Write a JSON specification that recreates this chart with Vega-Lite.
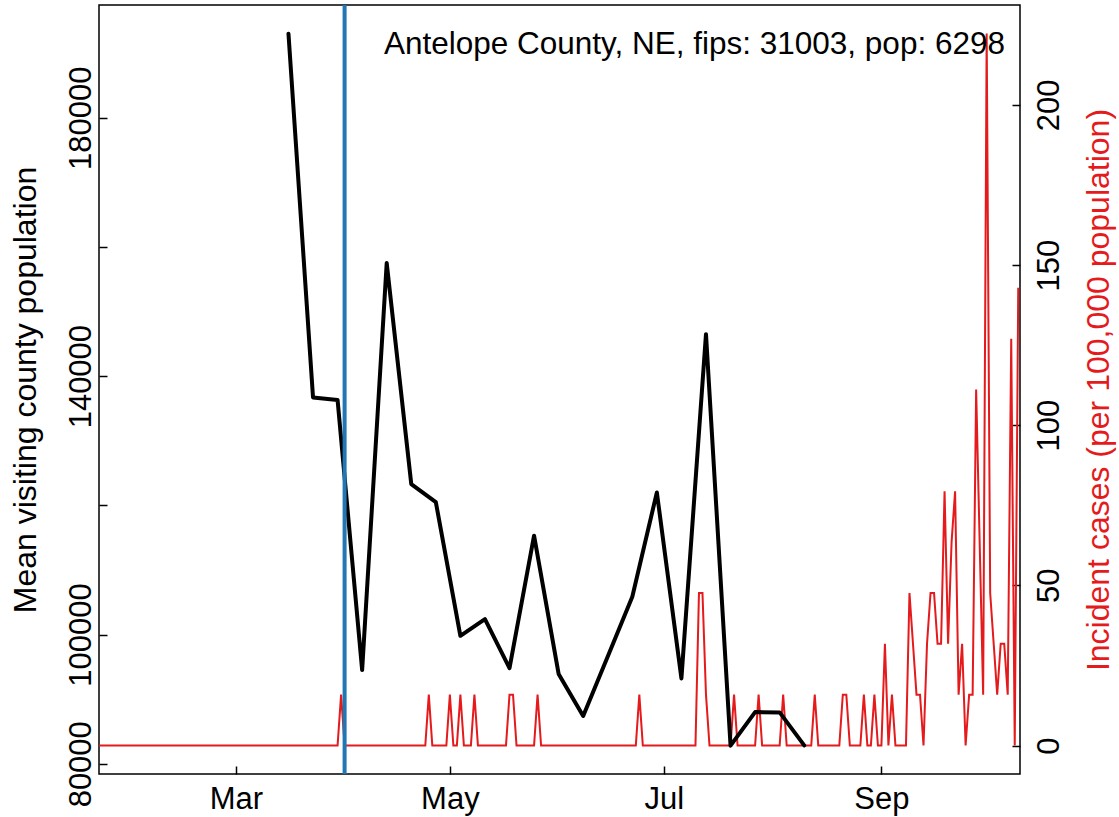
{
  "$schema": "https://vega.github.io/schema/vega-lite/v6.json",
  "width": 921,
  "height": 769,
  "autosize": {"type": "none"},
  "padding": {"left": 99, "top": 5, "right": 99, "bottom": 43},
  "background": "white",
  "config": {
    "view": {"stroke": "#000000", "strokeWidth": 1.5},
    "font": "Liberation Sans",
    "axis": {
      "grid": false,
      "domain": false,
      "tickColor": "#000000",
      "tickWidth": 1.5,
      "tickSize": -8,
      "labelFont": "Liberation Sans",
      "labelFontSize": 31,
      "labelColor": "#000000",
      "titleFont": "Liberation Sans",
      "titleFontSize": 32,
      "titleFontWeight": "normal",
      "titleColor": "#000000",
      "labelFlush": false,
      "labelOverlap": false
    }
  },
  "title": {
    "text": "Antelope County, NE, fips: 31003, pop: 6298",
    "anchor": "end",
    "frame": "group",
    "offset": -51,
    "baseline": "alphabetic",
    "dx": -15,
    "dy": 31,
    "fontSize": 31.5,
    "fontWeight": "normal",
    "font": "Liberation Sans",
    "color": "#000000"
  },
  "datasets": {
    "cases": [
      {"date":"2020-01-22","incidence":0},{"date":"2020-01-23","incidence":0},{"date":"2020-01-24","incidence":0},{"date":"2020-01-25","incidence":0},{"date":"2020-01-26","incidence":0},{"date":"2020-01-27","incidence":0},{"date":"2020-01-28","incidence":0},{"date":"2020-01-29","incidence":0},{"date":"2020-01-30","incidence":0},{"date":"2020-01-31","incidence":0},
      {"date":"2020-02-01","incidence":0},{"date":"2020-02-02","incidence":0},{"date":"2020-02-03","incidence":0},{"date":"2020-02-04","incidence":0},{"date":"2020-02-05","incidence":0},{"date":"2020-02-06","incidence":0},{"date":"2020-02-07","incidence":0},{"date":"2020-02-08","incidence":0},{"date":"2020-02-09","incidence":0},{"date":"2020-02-10","incidence":0},{"date":"2020-02-11","incidence":0},{"date":"2020-02-12","incidence":0},{"date":"2020-02-13","incidence":0},{"date":"2020-02-14","incidence":0},{"date":"2020-02-15","incidence":0},{"date":"2020-02-16","incidence":0},{"date":"2020-02-17","incidence":0},{"date":"2020-02-18","incidence":0},{"date":"2020-02-19","incidence":0},{"date":"2020-02-20","incidence":0},{"date":"2020-02-21","incidence":0},{"date":"2020-02-22","incidence":0},{"date":"2020-02-23","incidence":0},{"date":"2020-02-24","incidence":0},{"date":"2020-02-25","incidence":0},{"date":"2020-02-26","incidence":0},{"date":"2020-02-27","incidence":0},{"date":"2020-02-28","incidence":0},{"date":"2020-02-29","incidence":0},
      {"date":"2020-03-01","incidence":0},{"date":"2020-03-02","incidence":0},{"date":"2020-03-03","incidence":0},{"date":"2020-03-04","incidence":0},{"date":"2020-03-05","incidence":0},{"date":"2020-03-06","incidence":0},{"date":"2020-03-07","incidence":0},{"date":"2020-03-08","incidence":0},{"date":"2020-03-09","incidence":0},{"date":"2020-03-10","incidence":0},{"date":"2020-03-11","incidence":0},{"date":"2020-03-12","incidence":0},{"date":"2020-03-13","incidence":0},{"date":"2020-03-14","incidence":0},{"date":"2020-03-15","incidence":0},{"date":"2020-03-16","incidence":0},{"date":"2020-03-17","incidence":0},{"date":"2020-03-18","incidence":0},{"date":"2020-03-19","incidence":0},{"date":"2020-03-20","incidence":0},{"date":"2020-03-21","incidence":0},{"date":"2020-03-22","incidence":0},{"date":"2020-03-23","incidence":0},{"date":"2020-03-24","incidence":0},{"date":"2020-03-25","incidence":0},{"date":"2020-03-26","incidence":0},{"date":"2020-03-27","incidence":0},{"date":"2020-03-28","incidence":0},{"date":"2020-03-29","incidence":0},{"date":"2020-03-30","incidence":0},{"date":"2020-03-31","incidence":15.88},
      {"date":"2020-04-01","incidence":0},{"date":"2020-04-02","incidence":0},{"date":"2020-04-03","incidence":0},{"date":"2020-04-04","incidence":0},{"date":"2020-04-05","incidence":0},{"date":"2020-04-06","incidence":0},{"date":"2020-04-07","incidence":0},{"date":"2020-04-08","incidence":0},{"date":"2020-04-09","incidence":0},{"date":"2020-04-10","incidence":0},{"date":"2020-04-11","incidence":0},{"date":"2020-04-12","incidence":0},{"date":"2020-04-13","incidence":0},{"date":"2020-04-14","incidence":0},{"date":"2020-04-15","incidence":0},{"date":"2020-04-16","incidence":0},{"date":"2020-04-17","incidence":0},{"date":"2020-04-18","incidence":0},{"date":"2020-04-19","incidence":0},{"date":"2020-04-20","incidence":0},{"date":"2020-04-21","incidence":0},{"date":"2020-04-22","incidence":0},{"date":"2020-04-23","incidence":0},{"date":"2020-04-24","incidence":0},{"date":"2020-04-25","incidence":15.88},{"date":"2020-04-26","incidence":0},{"date":"2020-04-27","incidence":0},{"date":"2020-04-28","incidence":0},{"date":"2020-04-29","incidence":0},{"date":"2020-04-30","incidence":0},
      {"date":"2020-05-01","incidence":15.88},{"date":"2020-05-02","incidence":0},{"date":"2020-05-03","incidence":0},{"date":"2020-05-04","incidence":15.88},{"date":"2020-05-05","incidence":0},{"date":"2020-05-06","incidence":0},{"date":"2020-05-07","incidence":0},{"date":"2020-05-08","incidence":15.88},{"date":"2020-05-09","incidence":0},{"date":"2020-05-10","incidence":0},{"date":"2020-05-11","incidence":0},{"date":"2020-05-12","incidence":0},{"date":"2020-05-13","incidence":0},{"date":"2020-05-14","incidence":0},{"date":"2020-05-15","incidence":0},{"date":"2020-05-16","incidence":0},{"date":"2020-05-17","incidence":0},{"date":"2020-05-18","incidence":15.88},{"date":"2020-05-19","incidence":15.88},{"date":"2020-05-20","incidence":0},{"date":"2020-05-21","incidence":0},{"date":"2020-05-22","incidence":0},{"date":"2020-05-23","incidence":0},{"date":"2020-05-24","incidence":0},{"date":"2020-05-25","incidence":0},{"date":"2020-05-26","incidence":15.88},{"date":"2020-05-27","incidence":0},{"date":"2020-05-28","incidence":0},{"date":"2020-05-29","incidence":0},{"date":"2020-05-30","incidence":0},{"date":"2020-05-31","incidence":0},
      {"date":"2020-06-01","incidence":0},{"date":"2020-06-02","incidence":0},{"date":"2020-06-03","incidence":0},{"date":"2020-06-04","incidence":0},{"date":"2020-06-05","incidence":0},{"date":"2020-06-06","incidence":0},{"date":"2020-06-07","incidence":0},{"date":"2020-06-08","incidence":0},{"date":"2020-06-09","incidence":0},{"date":"2020-06-10","incidence":0},{"date":"2020-06-11","incidence":0},{"date":"2020-06-12","incidence":0},{"date":"2020-06-13","incidence":0},{"date":"2020-06-14","incidence":0},{"date":"2020-06-15","incidence":0},{"date":"2020-06-16","incidence":0},{"date":"2020-06-17","incidence":0},{"date":"2020-06-18","incidence":0},{"date":"2020-06-19","incidence":0},{"date":"2020-06-20","incidence":0},{"date":"2020-06-21","incidence":0},{"date":"2020-06-22","incidence":0},{"date":"2020-06-23","incidence":0},{"date":"2020-06-24","incidence":15.88},{"date":"2020-06-25","incidence":0},{"date":"2020-06-26","incidence":0},{"date":"2020-06-27","incidence":0},{"date":"2020-06-28","incidence":0},{"date":"2020-06-29","incidence":0},{"date":"2020-06-30","incidence":0},
      {"date":"2020-07-01","incidence":0},{"date":"2020-07-02","incidence":0},{"date":"2020-07-03","incidence":0},{"date":"2020-07-04","incidence":0},{"date":"2020-07-05","incidence":0},{"date":"2020-07-06","incidence":0},{"date":"2020-07-07","incidence":0},{"date":"2020-07-08","incidence":0},{"date":"2020-07-09","incidence":0},{"date":"2020-07-10","incidence":0},{"date":"2020-07-11","incidence":47.63},{"date":"2020-07-12","incidence":47.63},{"date":"2020-07-13","incidence":15.88},{"date":"2020-07-14","incidence":0},{"date":"2020-07-15","incidence":0},{"date":"2020-07-16","incidence":0},{"date":"2020-07-17","incidence":0},{"date":"2020-07-18","incidence":0},{"date":"2020-07-19","incidence":0},{"date":"2020-07-20","incidence":0},{"date":"2020-07-21","incidence":15.88},{"date":"2020-07-22","incidence":0},{"date":"2020-07-23","incidence":0},{"date":"2020-07-24","incidence":0},{"date":"2020-07-25","incidence":0},{"date":"2020-07-26","incidence":0},{"date":"2020-07-27","incidence":0},{"date":"2020-07-28","incidence":15.88},{"date":"2020-07-29","incidence":0},{"date":"2020-07-30","incidence":0},{"date":"2020-07-31","incidence":0},
      {"date":"2020-08-01","incidence":0},{"date":"2020-08-02","incidence":0},{"date":"2020-08-03","incidence":0},{"date":"2020-08-04","incidence":15.88},{"date":"2020-08-05","incidence":0},{"date":"2020-08-06","incidence":0},{"date":"2020-08-07","incidence":0},{"date":"2020-08-08","incidence":0},{"date":"2020-08-09","incidence":0},{"date":"2020-08-10","incidence":0},{"date":"2020-08-11","incidence":0},{"date":"2020-08-12","incidence":0},{"date":"2020-08-13","incidence":15.88},{"date":"2020-08-14","incidence":0},{"date":"2020-08-15","incidence":0},{"date":"2020-08-16","incidence":0},{"date":"2020-08-17","incidence":0},{"date":"2020-08-18","incidence":0},{"date":"2020-08-19","incidence":0},{"date":"2020-08-20","incidence":0},{"date":"2020-08-21","incidence":15.88},{"date":"2020-08-22","incidence":15.88},{"date":"2020-08-23","incidence":0},{"date":"2020-08-24","incidence":0},{"date":"2020-08-25","incidence":0},{"date":"2020-08-26","incidence":0},{"date":"2020-08-27","incidence":15.88},{"date":"2020-08-28","incidence":0},{"date":"2020-08-29","incidence":0},{"date":"2020-08-30","incidence":15.88},{"date":"2020-08-31","incidence":0},
      {"date":"2020-09-01","incidence":0},{"date":"2020-09-02","incidence":31.76},{"date":"2020-09-03","incidence":0},{"date":"2020-09-04","incidence":15.88},{"date":"2020-09-05","incidence":0},{"date":"2020-09-06","incidence":0},{"date":"2020-09-07","incidence":0},{"date":"2020-09-08","incidence":0},{"date":"2020-09-09","incidence":47.63},{"date":"2020-09-10","incidence":31.76},{"date":"2020-09-11","incidence":15.88},{"date":"2020-09-12","incidence":15.88},{"date":"2020-09-13","incidence":0},{"date":"2020-09-14","incidence":31.76},{"date":"2020-09-15","incidence":47.63},{"date":"2020-09-16","incidence":47.63},{"date":"2020-09-17","incidence":31.76},{"date":"2020-09-18","incidence":31.76},{"date":"2020-09-19","incidence":79.39},{"date":"2020-09-20","incidence":31.76},{"date":"2020-09-21","incidence":63.51},{"date":"2020-09-22","incidence":79.39},{"date":"2020-09-23","incidence":15.88},{"date":"2020-09-24","incidence":31.76},{"date":"2020-09-25","incidence":0},{"date":"2020-09-26","incidence":15.88},{"date":"2020-09-27","incidence":15.88},{"date":"2020-09-28","incidence":111.15},{"date":"2020-09-29","incidence":63.51},{"date":"2020-09-30","incidence":15.88},
      {"date":"2020-10-01","incidence":222.29},{"date":"2020-10-02","incidence":47.63},{"date":"2020-10-03","incidence":31.76},{"date":"2020-10-04","incidence":15.88},{"date":"2020-10-05","incidence":31.76},{"date":"2020-10-06","incidence":31.76},{"date":"2020-10-07","incidence":15.88},{"date":"2020-10-08","incidence":127.02},{"date":"2020-10-09","incidence":0},{"date":"2020-10-10","incidence":142.9}
    ],
    "visits": [
      {"date":"2020-03-16","visitors":193000},
      {"date":"2020-03-23","visitors":136700},
      {"date":"2020-03-30","visitors":136300},
      {"date":"2020-04-06","visitors":94500},
      {"date":"2020-04-13","visitors":157500},
      {"date":"2020-04-20","visitors":123300},
      {"date":"2020-04-27","visitors":120500},
      {"date":"2020-05-04","visitors":99800},
      {"date":"2020-05-11","visitors":102400},
      {"date":"2020-05-18","visitors":94800},
      {"date":"2020-05-25","visitors":115300},
      {"date":"2020-06-01","visitors":93900},
      {"date":"2020-06-08","visitors":87400},
      {"date":"2020-06-15","visitors":96600},
      {"date":"2020-06-22","visitors":105850},
      {"date":"2020-06-29","visitors":122000},
      {"date":"2020-07-06","visitors":93200},
      {"date":"2020-07-13","visitors":146500},
      {"date":"2020-07-20","visitors":82800},
      {"date":"2020-07-27","visitors":88000},
      {"date":"2020-08-03","visitors":87950},
      {"date":"2020-08-10","visitors":82850}
    ],
    "marker": [{"date":"2020-04-01","event":"reference date"}]
  },
  "layer": [
    {
      "data": {"name": "cases"},
      "mark": {"type": "line", "color": "#e41a1c", "strokeWidth": 2, "strokeJoin": "miter"},
      "encoding": {
        "x": {
          "field": "date", "type": "temporal",
          "scale": {"type": "utc", "domain": [{"year": 2020, "month": 1, "date": 22, "utc": true}, {"year": 2020, "month": 10, "date": 10, "hours": 12, "utc": true}]},
          "axis": {
            "orient": "bottom",
            "title": null,
            "values": [{"year": 2020, "month": 3, "date": 1, "utc": true}, {"year": 2020, "month": 5, "date": 1, "utc": true}, {"year": 2020, "month": 7, "date": 1, "utc": true}, {"year": 2020, "month": 9, "date": 1, "utc": true}],
            "labelExpr": "utcFormat(datum.value, '%b')",
            "labelAlign": "center",
            "labelBaseline": "alphabetic",
            "labelPadding": 42
          }
        },
        "y": {
          "field": "incidence", "type": "quantitative",
          "scale": {"domain": [-8.89, 231.18], "nice": false, "zero": false},
          "axis": {
            "orient": "right",
            "values": [0, 50, 100, 150, 200],
            "format": "d",
            "labelAngle": -90,
            "labelAlign": "center",
            "labelBaseline": "alphabetic",
            "labelPadding": 46,
            "title": "Incident cases (per 100,000 population)",
            "titleColor": "#e41a1c",
            "titleAngle": -90,
            "titleAlign": "center",
            "titleBaseline": "alphabetic",
            "titleX": 88,
            "titleY": 384.5
          }
        }
      }
    },
    {
      "data": {"name": "visits"},
      "mark": {"type": "line", "color": "#000000", "strokeWidth": 4, "strokeJoin": "round", "strokeCap": "round"},
      "encoding": {
        "x": {"field": "date", "type": "temporal"},
        "y": {
          "field": "visitors", "type": "quantitative",
          "scale": {"domain": [78413, 197448], "nice": false, "zero": false},
          "axis": {
            "orient": "left",
            "values": [80000, 100000, 120000, 140000, 160000, 180000],
            "format": "d",
            "labelExpr": "datum.value == 120000 || datum.value == 160000 ? '' : datum.label",
            "labelAngle": -90,
            "labelAlign": "center",
            "labelBaseline": "alphabetic",
            "labelPadding": 17,
            "title": "Mean visiting county population",
            "titleAngle": -90,
            "titleAlign": "center",
            "titleBaseline": "alphabetic",
            "titleX": -64,
            "titleY": 384.5
          }
        }
      }
    },
    {
      "data": {"name": "marker"},
      "mark": {"type": "rule", "color": "#1f77b4", "strokeWidth": 4},
      "encoding": {
        "x": {"field": "date", "type": "temporal"}
      }
    }
  ],
  "resolve": {"scale": {"y": "independent"}}
}
